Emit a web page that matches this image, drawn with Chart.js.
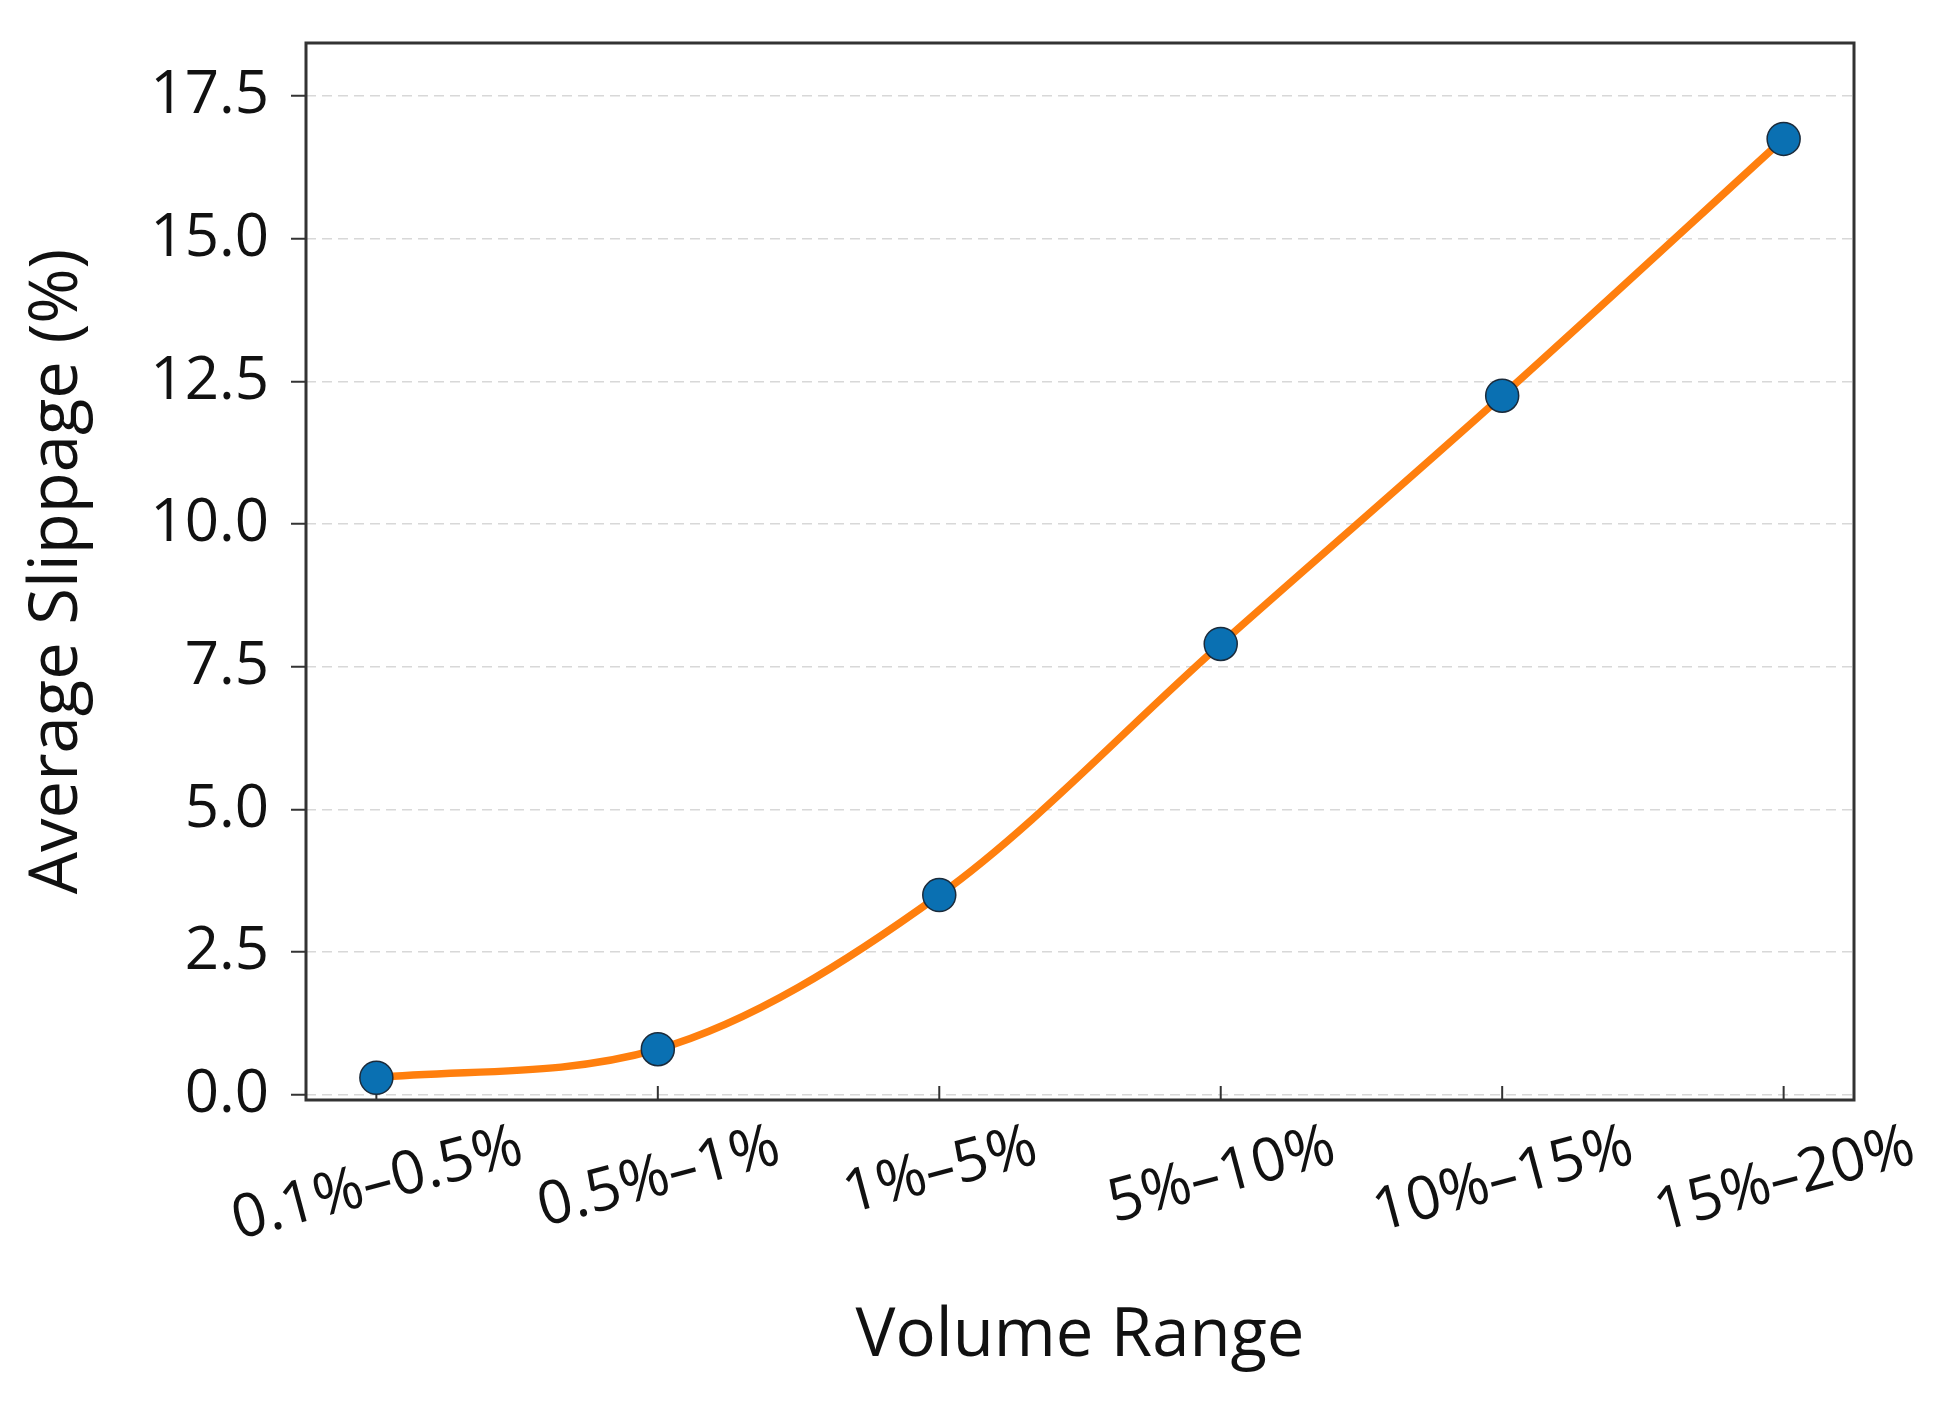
<!DOCTYPE html>
<html>
<head>
<meta charset="utf-8">
<script src="https://cdn.jsdelivr.net/npm/chart.js@4.4.1/dist/chart.umd.min.js"></script>
<style>
  html, body { margin: 0; padding: 0; background: #fff; }
  #wrap { width: 1938px; height: 1403px; position: relative; }
</style>
</head>
<body>
<div id="wrap"><canvas id="chart-slippage"></canvas></div>
<script>
// Average slippage by order volume range

const volumeRanges = ['0.1%\u20130.5%', '0.5%\u20131%', '1%\u20135%', '5%\u201310%', '10%\u201315%', '15%\u201320%'];
const avgSlippage = [0.3, 0.8, 3.5, 7.9, 12.25, 16.75];
const yTickStep = 2.5;

const FONT = '"Open Sans", "Noto Sans", sans-serif';
const TICK_SIZE = 60;
const TITLE_SIZE = 67;
const INK = '#111111';

Chart.defaults.font.family = FONT;
Chart.defaults.color = INK;

// frame, inward x ticks and centred rotated x labels
const axesPlugin = {
    id: 'axesFrame',
    beforeDatasetsDraw(chart) {
        const { ctx, chartArea: a, scales: { x } } = chart;
        ctx.save();
        ctx.strokeStyle = '#333';
        ctx.lineWidth = 2;
        x.ticks.forEach(t => {
            const px = x.getPixelForValue(t.value);
            ctx.beginPath();
            ctx.moveTo(px, a.bottom);
            ctx.lineTo(px, a.bottom - 14);
            ctx.stroke();
        });
        ctx.lineWidth = 3;
        ctx.strokeRect(a.left, a.top, a.right - a.left, a.bottom - a.top);
        ctx.restore();
    },
    afterDraw(chart) {
        const { ctx, chartArea: a, scales: { x } } = chart;
        const ang = 15 * Math.PI / 180;
        ctx.save();
        ctx.font = TICK_SIZE + 'px ' + FONT;
        ctx.fillStyle = INK;
        x.ticks.forEach(t => {
            const label = volumeRanges[t.value];
            if (label === undefined) return;
            const px = x.getPixelForValue(t.value);
            const w = ctx.measureText(label).width;
            const h = TICK_SIZE * 0.75;
            const cy = a.bottom + 20 + (w * Math.sin(ang) + h * Math.cos(ang)) / 2;
            ctx.save();
            ctx.translate(px, cy);
            ctx.rotate(-ang);
            ctx.textAlign = 'center';
            ctx.textBaseline = 'alphabetic';
            ctx.fillText(label, 0, TICK_SIZE * 0.357);
            ctx.restore();
        });
        ctx.restore();
    }
};

const ctx = document.getElementById('chart-slippage').getContext('2d');
new Chart(ctx, {
    type: 'line',
    data: {
        datasets: [{
            label: 'Average Slippage',
            data: avgSlippage.map((v, i) => ({ x: i, y: v })),
            borderColor: '#ff7f0e',
            borderWidth: 7.5,
            cubicInterpolationMode: 'monotone',
            fill: false,
            pointRadius: 16.5,
            pointBackgroundColor: '#0a70b2',
            pointBorderColor: '#1b2b3b',
            pointBorderWidth: 1.5
        }]
    },
    options: {
        responsive: true,
        maintainAspectRatio: false,
        animation: false,
        layout: { padding: { top: 43, right: 84, left: 0, bottom: 0 } },
        plugins: {
            legend: { display: false },
            tooltip: { enabled: false }
        },
        scales: {
            x: {
                type: 'linear',
                min: -0.25,
                max: 5.25,
                ticks: { display: false, stepSize: 1, includeBounds: false },
                grid: { display: false },
                border: { display: false },
                title: {
                    display: true,
                    text: 'Volume Range',
                    font: { size: TITLE_SIZE },
                    color: INK,
                    padding: { top: 0, bottom: 26 }
                },
                afterFit(scale) { scale.height = 303; }
            },
            y: {
                min: -0.09,
                max: 18.43,
                ticks: {
                    stepSize: yTickStep,
                    includeBounds: false,
                    padding: 22,
                    color: INK,
                    font: { size: TICK_SIZE },
                    callback: v => Number(v).toFixed(1)
                },
                grid: {
                    color: '#d8d8d8',
                    lineWidth: 1.5,
                    tickLength: 15,
                    tickColor: '#333',
                    tickWidth: 2,
                    tickBorderDash: []
                },
                border: { display: false, dash: [10, 6] },
                title: {
                    display: true,
                    text: 'Average Slippage (%)',
                    font: { size: TITLE_SIZE },
                    color: INK,
                    padding: { top: 18, bottom: 0 }
                },
                afterFit(scale) {
                    scale.width = 306;
                    scale.paddingTop = 0;
                    scale.paddingBottom = 0;
                }
            }
        }
    },
    plugins: [axesPlugin]
});
</script>
</body>
</html>
